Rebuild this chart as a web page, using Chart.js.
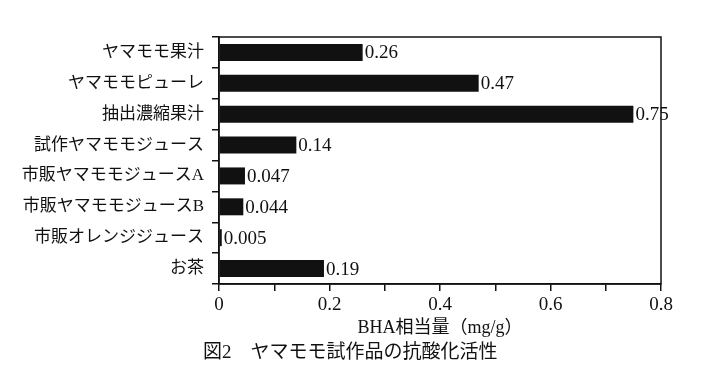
<html>
<head>
  <meta charset="utf-8">
  <title>ヤマモモ試作品の抗酸化活性</title>
  <script src="https://cdn.jsdelivr.net/npm/chart.js"></script>
  <style>
    body { margin: 0; background: white; }
  </style>
</head>
<body>
<canvas id="chart" width="702" height="377"></canvas>
<script>
const labels = ["ヤマモモ果汁", "ヤマモモピューレ", "抽出濃縮果汁", "試作ヤマモモジュース",
  "市販ヤマモモジュースA", "市販ヤマモモジュースB", "市販オレンジジュース", "お茶"];
const values = [0.26, 0.47, 0.75, 0.14, 0.047, 0.044, 0.005, 0.19];
const xTicks = [0, 0.2, 0.4, 0.6, 0.8];
const xTitle = "BHA相当量（mg/g）";
const caption = "図2　ヤマモモ試作品の抗酸化活性";

const serif = "'Liberation Serif', 'Noto Sans CJK JP', serif";

// frame round the plot, value labels at bar ends, figure caption
const extras = {
  id: "extras",
  afterDatasetsDraw(chart) {
    const ctx = chart.ctx;
    const a = chart.chartArea;
    ctx.save();
    ctx.strokeStyle = "#111";
    ctx.lineWidth = 1.5;
    ctx.strokeRect(a.left, a.top, a.right - a.left, a.bottom - a.top);
    ctx.fillStyle = "#111";
    ctx.font = "19px " + serif;
    ctx.textBaseline = "middle";
    chart.getDatasetMeta(0).data.forEach((bar, i) => {
      ctx.fillText(String(values[i]), bar.x + 2, bar.y + 1);
    });
    ctx.font = "19px " + serif;
    ctx.textAlign = "left";
    ctx.fillText(caption, a.left - 16, 353);
    ctx.restore();
  }
};

new Chart(document.getElementById("chart"), {
  type: "bar",
  data: {
    labels: labels,
    datasets: [{
      data: values,
      backgroundColor: "#111",
      borderWidth: 0,
      categoryPercentage: 1,
      barPercentage: 0.55
    }]
  },
  options: {
    indexAxis: "y",
    responsive: false,
    animation: false,
    layout: { padding: { top: 37, right: 41, left: 0, bottom: 33 } },
    plugins: {
      legend: { display: false },
      tooltip: { enabled: false }
    },
    scales: {
      x: {
        min: 0,
        max: 0.8,
        afterFit(scale) { scale.height = 60; },
        afterBuildTicks(scale) {
          const t = [];
          for (let i = 0; i <= 8; i++) t.push({ value: i / 10 });
          scale.ticks = t;
        },
        ticks: {
          color: "#111",
          font: { family: serif, size: 19 },
          padding: 3,
          maxRotation: 0,
          autoSkip: false,
          callback(v) {
            const hit = xTicks.find(t => Math.abs(t - v) < 1e-9);
            return hit === undefined ? "" : String(hit);
          }
        },
        grid: { drawOnChartArea: false, tickLength: 7, color: "#111", lineWidth: 1.5 },
        border: { color: "#111", width: 1.5 },
        title: {
          display: true,
          text: xTitle,
          color: "#111",
          font: { family: serif, size: 18 },
          padding: { top: 0, bottom: 5 }
        }
      },
      y: {
        afterFit(scale) { scale.width = 219; },
        ticks: {
          color: "#111",
          font: { family: serif, size: 17 },
          padding: 8,
          autoSkip: false
        },
        grid: { offset: true, drawOnChartArea: false, tickLength: 7, color: "#111", lineWidth: 1.5 },
        border: { color: "#111", width: 1.5 }
      }
    }
  },
  plugins: [extras]
});
</script>
</body>
</html>
